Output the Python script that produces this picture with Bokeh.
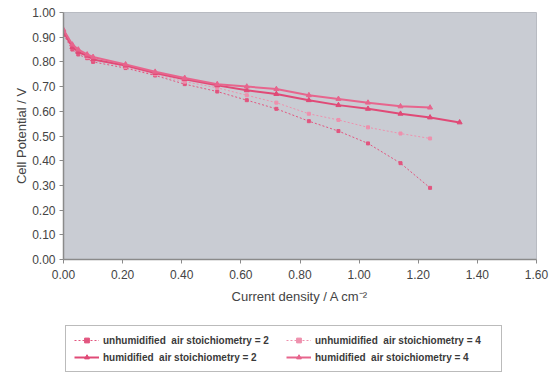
from bokeh.plotting import figure
from bokeh.layouts import column
from bokeh.models import FixedTicker, NumeralTickFormatter, Legend, LegendItem, Range1d
from bokeh.embed import file_html
from bokeh.resources import INLINE

# Data
current = [0.0, 0.03, 0.05, 0.08, 0.10, 0.21, 0.31, 0.41, 0.52, 0.62, 0.72, 0.83, 0.93, 1.03, 1.14, 1.24]
current_ext = current + [1.34]
unhum_l2 = [0.91, 0.85, 0.83, 0.815, 0.80, 0.775, 0.745, 0.71, 0.68, 0.645, 0.61, 0.56, 0.52, 0.47, 0.39, 0.29]
unhum_l4 = [0.92, 0.86, 0.84, 0.82, 0.81, 0.78, 0.75, 0.72, 0.695, 0.665, 0.635, 0.59, 0.565, 0.535, 0.51, 0.49]
hum_l2 = [0.92, 0.86, 0.84, 0.825, 0.81, 0.785, 0.755, 0.73, 0.705, 0.685, 0.67, 0.645, 0.625, 0.61, 0.59, 0.575, 0.555]
hum_l4 = [0.93, 0.87, 0.85, 0.83, 0.82, 0.79, 0.76, 0.735, 0.71, 0.70, 0.69, 0.665, 0.65, 0.635, 0.62, 0.615]

x_ticks = [0.0, 0.2, 0.4, 0.6, 0.8, 1.0, 1.2, 1.4, 1.6]
y_ticks = [0.0, 0.1, 0.2, 0.3, 0.4, 0.5, 0.6, 0.7, 0.8, 0.9, 1.0]
labels = ["unhumidified  air stoichiometry = 2", "unhumidified  air stoichiometry = 4",
          "humidified  air stoichiometry = 2", "humidified  air stoichiometry = 4"]

FONT = "Liberation Sans"

p = figure(width=549, height=315, output_backend="svg", toolbar_location=None,
           x_range=Range1d(0, 1.6), y_range=Range1d(0, 1.0),
           min_border_left=63, min_border_right=13, min_border_top=12, min_border_bottom=56)
p.background_fill_color = "#c9ccd3"
p.border_fill_color = "white"
p.outline_line_color = "#b8bbc2"
p.grid.visible = False

for ax in (p.xaxis, p.yaxis):
    ax.axis_line_color = "#8a8a8a"
    ax.axis_line_width = 1.5
    ax.major_tick_line_color = "#8a8a8a"
    ax.minor_tick_line_color = None
    ax.major_tick_in = 0
    ax.major_tick_out = 4
    ax.major_label_text_font = FONT
    ax.major_label_text_font_size = "12px"
    ax.major_label_text_color = "#444444"
    ax.axis_label_text_font = FONT
    ax.axis_label_text_font_size = "13px"
    ax.axis_label_text_font_style = "normal"
    ax.axis_label_text_color = "#444444"

p.xaxis.ticker = FixedTicker(ticks=x_ticks)
p.yaxis.ticker = FixedTicker(ticks=y_ticks)
p.xaxis.formatter = NumeralTickFormatter(format="0.00")
p.yaxis.formatter = NumeralTickFormatter(format="0.00")
p.xaxis.major_label_standoff = 6
p.yaxis.major_label_standoff = 4
p.xaxis.axis_label = "Current density / A cm\u207b\u00b2"
p.yaxis.axis_label = "Cell Potential / V"
p.xaxis.axis_label_standoff = 7
p.yaxis.axis_label_standoff = 0

c_u2 = "#e2557f"
c_u4 = "#ee90ad"
c_h2 = "#e04a77"
c_h4 = "#e7658d"

series = [(current, unhum_l2, c_u2, 1, "2 2", "square", 3),
          (current, unhum_l4, c_u4, 1, "2 2", "square", 3),
          (current_ext, hum_l2, c_h2, 2, "solid", "triangle", 5),
          (current, hum_l4, c_h4, 2, "solid", "triangle", 5)]
for xs, ys, c, lw, dash, mk, sz in series:
    p.line(xs, ys, line_color=c, line_width=lw, line_dash=dash)
    p.scatter(xs, ys, marker=mk, size=sz, color=c)

# Legend panel (separate figure below the chart); its ranges hide the copies of the series
q = figure(width=549, height=60, output_backend="svg", toolbar_location=None,
           x_range=Range1d(10, 11), y_range=Range1d(10, 11),
           min_border_left=63, min_border_right=13, min_border_top=0, min_border_bottom=0)
q.axis.visible = False
q.grid.visible = False
q.outline_line_color = None
q.background_fill_color = "white"
q.border_fill_color = "white"

items = []
for lab, (xs, ys, c, lw, dash, mk, sz) in zip(labels, series):
    rl = q.line(xs, ys, line_color=c, line_width=lw, line_dash=dash)
    rm = q.scatter(xs, ys, marker=mk, size=sz, color=c)
    items.append(LegendItem(label=lab, renderers=[rl, rm]))

legend = Legend(items=[items[0], items[2], items[1], items[3]], ncols=2, location=(2, 3))
legend.label_text_font = FONT
legend.label_text_font_size = "10px"
legend.label_text_font_style = "bold"
legend.label_text_color = "#3a3a3a"
legend.label_height = 12
legend.label_width = 178
legend.label_standoff = 4
legend.glyph_height = 12
legend.glyph_width = 25
legend.spacing = 5
legend.padding = 8
legend.margin = 0
legend.border_line_color = "#777777"
legend.border_line_width = 1
legend.background_fill_color = "white"
q.add_layout(legend, "center")

open("out.html", "w").write(file_html(column(p, q, spacing=0), INLINE))
